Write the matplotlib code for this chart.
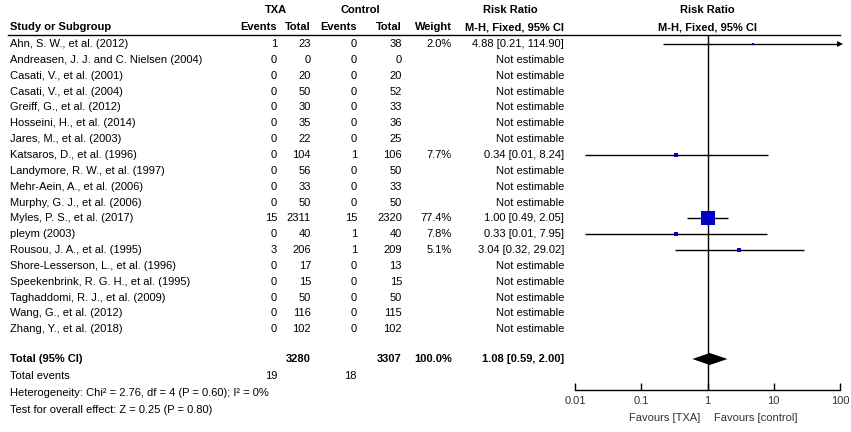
import numpy as np
import matplotlib.pyplot as plt
from matplotlib.ticker import NullLocator
from matplotlib.lines import Line2D

plt.rcParams['font.family'] = ['Liberation Sans', 'DejaVu Sans']

# Study data
studies = [
    'Ahn, S. W., et al. (2012)', 'Andreasen, J. J. and C. Nielsen (2004)',
    'Casati, V., et al. (2001)', 'Casati, V., et al. (2004)',
    'Greiff, G., et al. (2012)', 'Hosseini, H., et al. (2014)',
    'Jares, M., et al. (2003)', 'Katsaros, D., et al. (1996)',
    'Landymore, R. W., et al. (1997)', 'Mehr-Aein, A., et al. (2006)',
    'Murphy, G. J., et al. (2006)', 'Myles, P. S., et al. (2017)',
    'pleym\u00a0(2003)', 'Rousou, J. A., et al. (1995)',
    'Shore-Lesserson, L., et al. (1996)', 'Speekenbrink, R. G. H., et al. (1995)',
    'Taghaddomi, R. J., et al. (2009)', 'Wang, G., et al. (2012)',
    'Zhang, Y., et al. (2018)',
]
txa_events = [1, 0, 0, 0, 0, 0, 0, 0, 0, 0, 0, 15, 0, 3, 0, 0, 0, 0, 0]
txa_total = [23, 0, 20, 50, 30, 35, 22, 104, 56, 33, 50, 2311, 40, 206, 17, 15, 50, 116, 102]
ctl_events = [0, 0, 0, 0, 0, 0, 0, 1, 0, 0, 0, 15, 1, 1, 0, 0, 0, 0, 0]
ctl_total = [38, 0, 20, 52, 33, 36, 25, 106, 50, 33, 50, 2320, 40, 209, 13, 15, 50, 115, 102]
nan = np.nan
weight = [2.0, nan, nan, nan, nan, nan, nan, 7.7, nan, nan, nan, 77.4, 7.8, 5.1, nan, nan, nan, nan, nan]
rr = [4.88, nan, nan, nan, nan, nan, nan, 0.34, nan, nan, nan, 1.00, 0.33, 3.04, nan, nan, nan, nan, nan]
# lower limits shown as 0.01 but the whiskers start a bit right of the 0.01 tick
ci_lo = [0.21, nan, nan, nan, nan, nan, nan, 0.014, nan, nan, nan, 0.49, 0.014, 0.32, nan, nan, nan, nan, nan]
ci_hi = [114.90, nan, nan, nan, nan, nan, nan, 8.24, nan, nan, nan, 2.05, 7.95, 29.02, nan, nan, nan, nan, nan]

total_txa, total_ctl = 3280, 3307
events_txa, events_ctl = 19, 18
pooled_rr, pooled_lo, pooled_hi = 1.08, 0.59, 2.00
heterogeneity = 'Heterogeneity: Chi\u00b2 = 2.76, df = 4 (P = 0.60); I\u00b2 = 0%'
overall = 'Test for overall effect: Z = 0.25 (P = 0.80)'

tick_vals = [0.01, 0.1, 1, 10, 100]
tick_labels = ['0.01', '0.1', '1', '10', '100']

W, H = 851, 432
fig = plt.figure(figsize=(W / 100, H / 100), dpi=100)


def put(x, y, s, ha='left', bold=False, color='black'):
    fig.text(x / W, 1 - y / H, s, ha=ha, va='center', fontsize=8,
             fontweight='bold' if bold else 'normal', color=color)


# column right edges (pixels)
c_ev1, c_tot1, c_ev2, c_tot2, c_w, c_ci = 277, 311, 357, 402, 452, 564

# headers
put(276, 10, 'TXA', ha='center', bold=True)
put(360, 10, 'Control', ha='center', bold=True)
put(510, 10, 'Risk Ratio', ha='center', bold=True)
put(707, 10, 'Risk Ratio', ha='center', bold=True)
put(10, 27, 'Study or Subgroup', bold=True)
put(c_ev1, 27, 'Events', ha='right', bold=True)
put(c_tot1, 27, 'Total', ha='right', bold=True)
put(c_ev2, 27, 'Events', ha='right', bold=True)
put(c_tot2, 27, 'Total', ha='right', bold=True)
put(c_w, 27, 'Weight', ha='right', bold=True)
put(c_ci, 27, 'M-H, Fixed, 95% CI', ha='right', bold=True)
put(707, 27, 'M-H, Fixed, 95% CI', ha='center', bold=True)
fig.add_artist(Line2D([8 / W, 840 / W], [1 - 35 / H, 1 - 35 / H], color='black', lw=1))

# forest panel: y data units == pixel rows
ax = fig.add_axes([575 / W, 1 - 390 / H, 265 / W, (390 - 35) / H])
ax.set_xscale('log')
ax.set_xlim(0.01, 100)
ax.set_ylim(390, 35)
ax.patch.set_visible(False)
for s in ['top', 'left', 'right']:
    ax.spines[s].set_visible(False)
ax.spines['bottom'].set_linewidth(1)
ax.set_yticks([])
ax.set_xticks(tick_vals)
ax.set_xticklabels(tick_labels)
ax.xaxis.set_minor_locator(NullLocator())
ax.tick_params(axis='x', direction='in', length=5, width=1, pad=4,
               labelsize=8, labelcolor='#333333')
ax.axvline(1, color='black', lw=1)

y0, dy = 44, 15.85
for i, name in enumerate(studies):
    y = y0 + i * dy
    put(10, y, name)
    put(c_ev1, y, str(txa_events[i]), ha='right')
    put(c_tot1, y, str(txa_total[i]), ha='right')
    put(c_ev2, y, str(ctl_events[i]), ha='right')
    put(c_tot2, y, str(ctl_total[i]), ha='right')
    if np.isnan(rr[i]):
        put(c_ci, y, 'Not estimable', ha='right')
        continue
    put(c_w, y, f'{weight[i]:.1f}%', ha='right')
    put(c_ci, y, f'{rr[i]:.2f} [{ci_lo[i]:.2f}, {ci_hi[i]:.2f}]', ha='right')
    hi = min(ci_hi[i], 100)
    ax.plot([ci_lo[i], hi], [y, y], color='black', lw=1, solid_capstyle='butt')
    if ci_hi[i] > 100:
        ax.plot(hi, y, marker='>', ms=5, color='black', mew=0, clip_on=False)
    ax.plot(rr[i], y, marker='s', ms=10 * np.sqrt(weight[i] / 77.4),
            color='#0000C8', mew=0)

# totals
ty = 359
put(10, ty, 'Total (95% CI)', bold=True)
put(c_tot1, ty, str(total_txa), ha='right', bold=True)
put(c_tot2, ty, str(total_ctl), ha='right', bold=True)
put(c_w, ty, '100.0%', ha='right', bold=True)
put(c_ci, ty, f'{pooled_rr:.2f} [{pooled_lo:.2f}, {pooled_hi:.2f}]', ha='right', bold=True)
ax.fill([pooled_lo, pooled_rr, pooled_hi, pooled_rr], [ty, ty - 6, ty, ty + 6],
        color='black', lw=0)

put(10, 376, 'Total events')
put(c_ev1, 376, str(events_txa), ha='right')
put(c_ev2, 376, str(events_ctl), ha='right')
put(10, 393, heterogeneity)
put(10, 410, overall)

put(700, 418, 'Favours [TXA]', ha='right', color='#333333')
put(714, 418, 'Favours [control]', ha='left', color='#333333')

fig.savefig('out.png', dpi=100)
